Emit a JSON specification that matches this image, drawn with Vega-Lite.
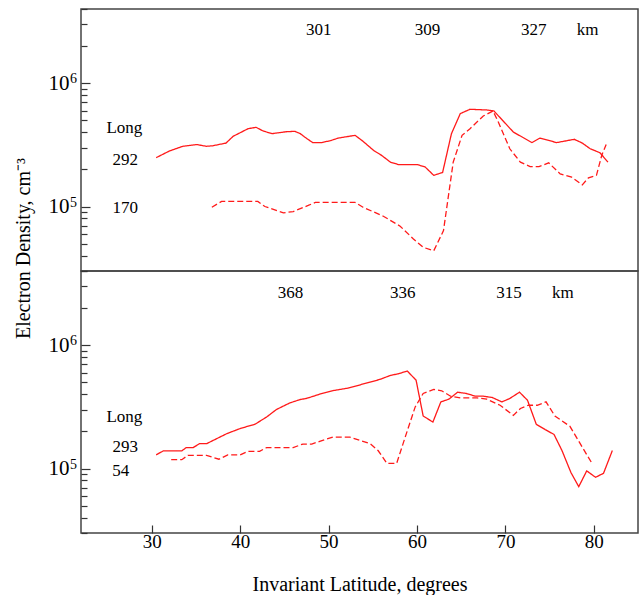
{
  "$schema": "https://vega.github.io/schema/vega-lite/v6.json",
  "padding": {"left": 12, "top": 7, "right": 1, "bottom": 0},
  "spacing": 0,
  "bounds": "flush",
  "config": {
    "font": "Liberation Serif, Times New Roman, serif",
    "view": {"stroke": "#444", "strokeWidth": 1.5},
    "axis": {"labelFont": "Liberation Serif, Times New Roman, serif", "titleFont": "Liberation Serif, Times New Roman, serif", "labelColor": "#000", "titleColor": "#000", "tickColor": "#333", "tickWidth": 1.2, "grid": false, "domain": false, "titleFontWeight": "normal"},
    "text": {"font": "Liberation Serif, Times New Roman, serif", "fontSize": 17, "color": "#000"}
  },
  "datasets": {
    "pts": [
      {"p":"top","s":"a","lat":30.5,"n":249000},{"p":"top","s":"a","lat":32.0,"n":282000},{"p":"top","s":"a","lat":33.5,"n":308000},{"p":"top","s":"a","lat":35.1,"n":318000},{"p":"top","s":"a","lat":36.2,"n":308000},{"p":"top","s":"a","lat":36.9,"n":311000},{"p":"top","s":"a","lat":38.4,"n":327000},{"p":"top","s":"a","lat":39.2,"n":371000},{"p":"top","s":"a","lat":40.9,"n":428000},{"p":"top","s":"a","lat":41.8,"n":439000},{"p":"top","s":"a","lat":42.6,"n":410000},{"p":"top","s":"a","lat":43.6,"n":390000},{"p":"top","s":"a","lat":45.3,"n":405000},{"p":"top","s":"a","lat":46.2,"n":407000},{"p":"top","s":"a","lat":46.8,"n":390000},{"p":"top","s":"a","lat":47.3,"n":366000},{"p":"top","s":"a","lat":48.2,"n":330000},{"p":"top","s":"a","lat":49.2,"n":330000},{"p":"top","s":"a","lat":50.2,"n":342000},{"p":"top","s":"a","lat":51.1,"n":359000},{"p":"top","s":"a","lat":53.0,"n":378000},{"p":"top","s":"a","lat":53.9,"n":338000},{"p":"top","s":"a","lat":55.1,"n":285000},{"p":"top","s":"a","lat":56.0,"n":260000},{"p":"top","s":"a","lat":57.0,"n":229000},{"p":"top","s":"a","lat":57.9,"n":219000},{"p":"top","s":"a","lat":60.0,"n":219000},{"p":"top","s":"a","lat":60.9,"n":210000},{"p":"top","s":"a","lat":61.9,"n":179000},{"p":"top","s":"a","lat":62.9,"n":189000},{"p":"top","s":"a","lat":63.9,"n":390000},{"p":"top","s":"a","lat":64.9,"n":567000},{"p":"top","s":"a","lat":66.0,"n":615000},{"p":"top","s":"a","lat":67.9,"n":607000},{"p":"top","s":"a","lat":68.7,"n":596000},{"p":"top","s":"a","lat":70.9,"n":402000},{"p":"top","s":"a","lat":73.0,"n":330000},{"p":"top","s":"a","lat":73.9,"n":359000},{"p":"top","s":"a","lat":75.8,"n":330000},{"p":"top","s":"a","lat":77.8,"n":351000},{"p":"top","s":"a","lat":78.7,"n":327000},{"p":"top","s":"a","lat":79.6,"n":294000},{"p":"top","s":"a","lat":80.7,"n":273000},{"p":"top","s":"a","lat":81.6,"n":229000},
      {"p":"top","s":"b","lat":36.8,"n":98700},{"p":"top","s":"b","lat":37.9,"n":110000},{"p":"top","s":"b","lat":42.0,"n":110000},{"p":"top","s":"b","lat":42.8,"n":100000},{"p":"top","s":"b","lat":44.9,"n":88900},{"p":"top","s":"b","lat":46.0,"n":91000},{"p":"top","s":"b","lat":47.7,"n":102000},{"p":"top","s":"b","lat":48.5,"n":108000},{"p":"top","s":"b","lat":53.0,"n":108000},{"p":"top","s":"b","lat":53.9,"n":98700},{"p":"top","s":"b","lat":56.2,"n":83400},{"p":"top","s":"b","lat":58.1,"n":69300},{"p":"top","s":"b","lat":59.6,"n":54600},{"p":"top","s":"b","lat":60.7,"n":46700},{"p":"top","s":"b","lat":61.9,"n":43800},{"p":"top","s":"b","lat":63.0,"n":63800},{"p":"top","s":"b","lat":64.1,"n":229000},{"p":"top","s":"b","lat":65.1,"n":378000},{"p":"top","s":"b","lat":66.0,"n":428000},{"p":"top","s":"b","lat":67.5,"n":542000},{"p":"top","s":"b","lat":68.6,"n":596000},{"p":"top","s":"b","lat":69.2,"n":484000},{"p":"top","s":"b","lat":70.5,"n":294000},{"p":"top","s":"b","lat":71.7,"n":229000},{"p":"top","s":"b","lat":72.8,"n":211000},{"p":"top","s":"b","lat":73.8,"n":211000},{"p":"top","s":"b","lat":74.9,"n":226000},{"p":"top","s":"b","lat":76.2,"n":184000},{"p":"top","s":"b","lat":77.5,"n":173000},{"p":"top","s":"b","lat":78.7,"n":150000},{"p":"top","s":"b","lat":79.4,"n":171000},{"p":"top","s":"b","lat":80.3,"n":179000},{"p":"top","s":"b","lat":80.9,"n":260000},{"p":"top","s":"b","lat":81.4,"n":318000},
      {"p":"bot","s":"a","lat":30.5,"n":129000},{"p":"bot","s":"a","lat":31.3,"n":139000},{"p":"bot","s":"a","lat":33.4,"n":139000},{"p":"bot","s":"a","lat":33.9,"n":148000},{"p":"bot","s":"a","lat":34.7,"n":148000},{"p":"bot","s":"a","lat":35.4,"n":159000},{"p":"bot","s":"a","lat":36.2,"n":159000},{"p":"bot","s":"a","lat":38.5,"n":192000},{"p":"bot","s":"a","lat":40.0,"n":211000},{"p":"bot","s":"a","lat":41.7,"n":229000},{"p":"bot","s":"a","lat":43.0,"n":262000},{"p":"bot","s":"a","lat":44.1,"n":301000},{"p":"bot","s":"a","lat":45.6,"n":340000},{"p":"bot","s":"a","lat":46.8,"n":363000},{"p":"bot","s":"a","lat":47.5,"n":370000},{"p":"bot","s":"a","lat":49.0,"n":401000},{"p":"bot","s":"a","lat":50.4,"n":427000},{"p":"bot","s":"a","lat":52.2,"n":449000},{"p":"bot","s":"a","lat":53.6,"n":478000},{"p":"bot","s":"a","lat":55.8,"n":528000},{"p":"bot","s":"a","lat":57.0,"n":569000},{"p":"bot","s":"a","lat":57.9,"n":587000},{"p":"bot","s":"a","lat":58.9,"n":618000},{"p":"bot","s":"a","lat":59.9,"n":521000},{"p":"bot","s":"a","lat":60.7,"n":267000},{"p":"bot","s":"a","lat":61.8,"n":238000},{"p":"bot","s":"a","lat":62.7,"n":347000},{"p":"bot","s":"a","lat":63.6,"n":365000},{"p":"bot","s":"a","lat":64.6,"n":416000},{"p":"bot","s":"a","lat":65.6,"n":406000},{"p":"bot","s":"a","lat":66.6,"n":386000},{"p":"bot","s":"a","lat":67.5,"n":386000},{"p":"bot","s":"a","lat":68.5,"n":377000},{"p":"bot","s":"a","lat":69.6,"n":347000},{"p":"bot","s":"a","lat":70.5,"n":370000},{"p":"bot","s":"a","lat":71.6,"n":416000},{"p":"bot","s":"a","lat":72.5,"n":358000},{"p":"bot","s":"a","lat":73.5,"n":228000},{"p":"bot","s":"a","lat":74.5,"n":207000},{"p":"bot","s":"a","lat":75.5,"n":189000},{"p":"bot","s":"a","lat":76.4,"n":140000},{"p":"bot","s":"a","lat":77.4,"n":93300},{"p":"bot","s":"a","lat":78.3,"n":71300},{"p":"bot","s":"a","lat":79.2,"n":95700},{"p":"bot","s":"a","lat":80.2,"n":84900},{"p":"bot","s":"a","lat":81.1,"n":91500},{"p":"bot","s":"a","lat":82.1,"n":140000},
      {"p":"bot","s":"b","lat":32.2,"n":118000},{"p":"bot","s":"b","lat":33.4,"n":118000},{"p":"bot","s":"b","lat":34.1,"n":128000},{"p":"bot","s":"b","lat":36.2,"n":128000},{"p":"bot","s":"b","lat":37.6,"n":119000},{"p":"bot","s":"b","lat":38.6,"n":129000},{"p":"bot","s":"b","lat":40.0,"n":129000},{"p":"bot","s":"b","lat":40.9,"n":138000},{"p":"bot","s":"b","lat":42.2,"n":138000},{"p":"bot","s":"b","lat":43.0,"n":148000},{"p":"bot","s":"b","lat":46.0,"n":148000},{"p":"bot","s":"b","lat":47.1,"n":158000},{"p":"bot","s":"b","lat":48.1,"n":158000},{"p":"bot","s":"b","lat":49.0,"n":166000},{"p":"bot","s":"b","lat":50.5,"n":180000},{"p":"bot","s":"b","lat":52.4,"n":180000},{"p":"bot","s":"b","lat":54.7,"n":159000},{"p":"bot","s":"b","lat":55.6,"n":140000},{"p":"bot","s":"b","lat":56.6,"n":110000},{"p":"bot","s":"b","lat":57.7,"n":110000},{"p":"bot","s":"b","lat":58.8,"n":192000},{"p":"bot","s":"b","lat":59.8,"n":316000},{"p":"bot","s":"b","lat":60.7,"n":406000},{"p":"bot","s":"b","lat":61.9,"n":438000},{"p":"bot","s":"b","lat":62.8,"n":427000},{"p":"bot","s":"b","lat":63.8,"n":386000},{"p":"bot","s":"b","lat":64.9,"n":374000},{"p":"bot","s":"b","lat":66.8,"n":374000},{"p":"bot","s":"b","lat":67.9,"n":365000},{"p":"bot","s":"b","lat":69.4,"n":326000},{"p":"bot","s":"b","lat":70.9,"n":270000},{"p":"bot","s":"b","lat":71.7,"n":307000},{"p":"bot","s":"b","lat":72.6,"n":326000},{"p":"bot","s":"b","lat":73.6,"n":326000},{"p":"bot","s":"b","lat":74.6,"n":347000},{"p":"bot","s":"b","lat":75.6,"n":267000},{"p":"bot","s":"b","lat":77.3,"n":220000},{"p":"bot","s":"b","lat":78.7,"n":149000},{"p":"bot","s":"b","lat":79.8,"n":110000}
    ],
    "labs": [
      {"p":"top","lat":48.9,"n":2700000,"t":"301"},{"p":"top","lat":61.2,"n":2700000,"t":"309"},{"p":"top","lat":73.2,"n":2700000,"t":"327"},{"p":"top","lat":79.3,"n":2700000,"t":"km"},
      {"p":"top","lat":26.9,"n":433000,"t":"Long"},{"p":"top","lat":27.0,"n":237000,"t":"292"},{"p":"top","lat":27.0,"n":97000,"t":"170"},
      {"p":"bot","lat":45.7,"n":2650000,"t":"368"},{"p":"bot","lat":58.4,"n":2650000,"t":"336"},{"p":"bot","lat":70.4,"n":2650000,"t":"315"},{"p":"bot","lat":76.5,"n":2650000,"t":"km"},
      {"p":"bot","lat":26.9,"n":262000,"t":"Long"},{"p":"bot","lat":27.0,"n":149000,"t":"293"},{"p":"bot","lat":26.5,"n":96000,"t":"54"}
    ],
    "sup": [
      {"p":"top","lat":21.15,"n":1000000,"t":"6"},{"p":"top","lat":21.15,"n":100000,"t":"5"},
      {"p":"bot","lat":21.15,"n":1000000,"t":"6"},{"p":"bot","lat":21.15,"n":100000,"t":"5"}
    ]
  },
  "vconcat": [
    {
      "width": 557,
      "height": 262,
      "layer": [
        {
          "data": {"name": "pts"},
          "transform": [{"filter": "datum.p == 'top'"}],
          "mark": {"type": "line", "color": "#ff1a1a", "strokeWidth": 1.3, "clip": true},
          "encoding": {
            "x": {"field": "lat", "type": "quantitative", "scale": {"domain": [22, 85], "nice": false, "zero": false}, "axis": null},
            "y": {"field": "n", "type": "quantitative", "scale": {"type": "log", "domain": [30000, 4000000], "nice": false},
              "axis": {
                "values": [30000,40000,50000,60000,70000,80000,90000,100000,200000,300000,400000,500000,600000,700000,800000,900000,1000000,2000000,3000000,4000000],
                "labelExpr": "datum.value == 100000 || datum.value == 1000000 ? '10' : ''",
                "tickSize": {"condition": {"test": "datum.value == 100000 || datum.value == 1000000", "value": -9}, "value": -6},
                "labelPadding": 21, "labelFontSize": 21,
                "title": "Electron Density, cm⁻³", "titleFontSize": 20, "titleX": -52, "titleY": 239, "titleAlign": "center", "titleBaseline": "alphabetic", "titleAngle": 270
              }
            },
            "detail": {"field": "s"},
            "strokeDash": {"field": "s", "type": "nominal", "scale": {"domain": ["a", "b"], "range": [[1, 0], [6, 3]]}, "legend": null}
          }
        },
        {
          "data": {"name": "labs"},
          "transform": [{"filter": "datum.p == 'top'"}],
          "mark": {"type": "text", "align": "center", "baseline": "middle", "fontSize": 17, "font": "Liberation Serif, Times New Roman, serif"},
          "encoding": {
            "x": {"field": "lat", "type": "quantitative"},
            "y": {"field": "n", "type": "quantitative"},
            "text": {"field": "t"}
          }
        },
        {
          "data": {"name": "sup"},
          "transform": [{"filter": "datum.p == 'top'"}],
          "mark": {"type": "text", "align": "center", "baseline": "alphabetic", "fontSize": 14, "font": "Liberation Serif, Times New Roman, serif"},
          "encoding": {
            "x": {"field": "lat", "type": "quantitative"},
            "y": {"field": "n", "type": "quantitative"},
            "text": {"field": "t"}
          }
        }
      ]
    },
    {
      "width": 557,
      "height": 262,
      "layer": [
        {
          "data": {"name": "pts"},
          "transform": [{"filter": "datum.p == 'bot'"}],
          "mark": {"type": "line", "color": "#ff1a1a", "strokeWidth": 1.3, "clip": true},
          "encoding": {
            "x": {"field": "lat", "type": "quantitative", "scale": {"domain": [22, 85], "nice": false, "zero": false},
              "axis": {"values": [30, 40, 50, 60, 70, 80], "tickSize": -8, "labelPadding": 7, "labelFontSize": 19,
                "title": "Invariant Latitude, degrees", "titleFontSize": 20, "titleY": 57, "titleBaseline": "alphabetic"}
            },
            "y": {"field": "n", "type": "quantitative", "scale": {"type": "log", "domain": [30000, 4000000], "nice": false},
              "axis": {
                "values": [30000,40000,50000,60000,70000,80000,90000,100000,200000,300000,400000,500000,600000,700000,800000,900000,1000000,2000000,3000000,4000000],
                "labelExpr": "datum.value == 100000 || datum.value == 1000000 ? '10' : ''",
                "tickSize": {"condition": {"test": "datum.value == 100000 || datum.value == 1000000", "value": -9}, "value": -6},
                "labelPadding": 21, "labelFontSize": 21, "title": null
              }
            },
            "detail": {"field": "s"},
            "strokeDash": {"field": "s", "type": "nominal", "scale": {"domain": ["a", "b"], "range": [[1, 0], [6, 3]]}, "legend": null}
          }
        },
        {
          "data": {"name": "labs"},
          "transform": [{"filter": "datum.p == 'bot'"}],
          "mark": {"type": "text", "align": "center", "baseline": "middle", "fontSize": 17, "font": "Liberation Serif, Times New Roman, serif"},
          "encoding": {
            "x": {"field": "lat", "type": "quantitative"},
            "y": {"field": "n", "type": "quantitative"},
            "text": {"field": "t"}
          }
        },
        {
          "data": {"name": "sup"},
          "transform": [{"filter": "datum.p == 'bot'"}],
          "mark": {"type": "text", "align": "center", "baseline": "alphabetic", "fontSize": 14, "font": "Liberation Serif, Times New Roman, serif"},
          "encoding": {
            "x": {"field": "lat", "type": "quantitative"},
            "y": {"field": "n", "type": "quantitative"},
            "text": {"field": "t"}
          }
        }
      ]
    }
  ]
}
